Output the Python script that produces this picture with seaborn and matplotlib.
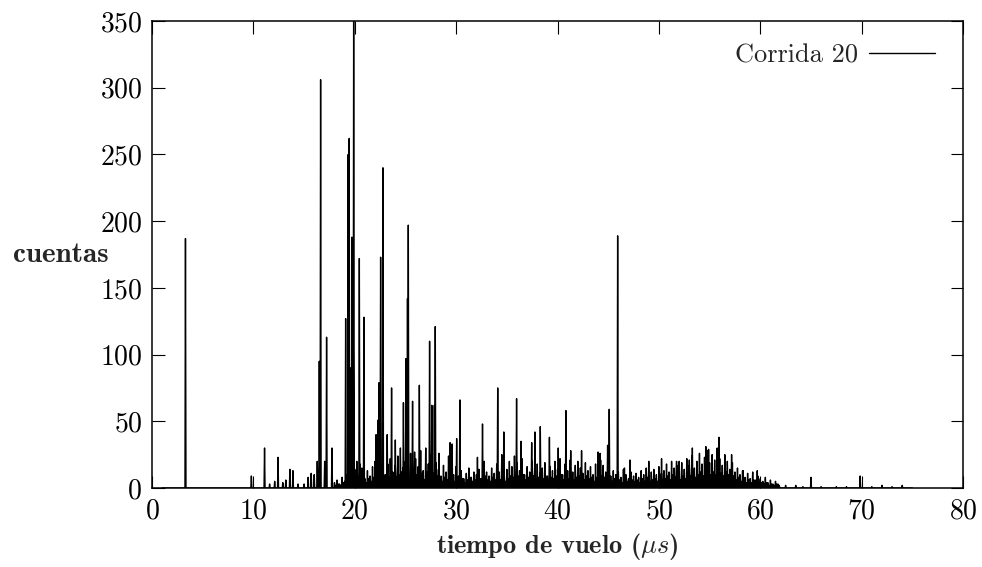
import numpy as np
import pandas as pd
import matplotlib
matplotlib.use('Agg')
import matplotlib.pyplot as plt
import seaborn as sns

# main peaks: time of flight (us) and counts
peak_t = [3.30, 9.80, 11.10, 11.60, 12.10, 12.43, 12.90, 13.20, 13.60, 13.90,
          14.40, 15.00, 15.40, 15.70, 16.00, 16.30, 16.50, 16.63, 17.03, 17.22,
          17.75, 19.10, 19.35, 19.45, 19.60, 19.72, 19.85, 19.89, 20.20, 20.45,
          20.70, 20.90, 22.10, 22.30, 22.40, 22.55, 22.78, 23.20, 23.63, 24.00,
          24.80, 25.05, 25.20, 25.28, 25.70, 25.90, 26.37, 27.38, 27.60, 27.85,
          27.94, 28.30, 29.40, 29.60, 30.05, 30.37, 32.10, 32.60, 34.10, 34.70,
          35.96, 36.40, 37.45, 37.77, 38.30, 39.20, 40.07, 40.83, 41.30, 42.37,
          44.00, 44.20, 44.94, 45.10, 45.93, 46.60, 47.14, 49.00, 50.26, 51.74,
          52.00, 53.00, 53.30, 54.63, 54.90, 55.92, 57.17, 58.30, 59.70, 65.00,
          69.85]
peak_c = [187, 9, 30, 3, 5, 23, 4, 6, 14, 13,
          3, 3, 8, 11, 10, 20, 95, 306, 20, 113,
          30, 127, 250, 262, 90, 188, 120, 350, 20, 172,
          15, 128, 40, 51, 79, 173, 240, 40, 75, 36,
          64, 97, 142, 197, 65, 27, 77, 110, 62, 62,
          121, 26, 34, 33, 37, 66, 23, 48, 75, 42,
          67, 35, 34, 42, 46, 38, 30, 58, 28, 28,
          27, 26, 32, 59, 189, 15, 21, 20, 22, 20,
          20, 21, 30, 31, 29, 38, 25, 13, 13, 8,
          9]

# dense background between 18 and 62 us, one value every 0.25 us
forest_t0 = 18.0
forest_dt = 0.25
forest_c = [4, 6, 3, 8, 5, 10, 7, 12,
            14, 9, 18, 11, 7, 13, 9, 16,
            20, 12, 25, 15, 10, 18, 22, 12,
            17, 24, 30, 15, 20, 12, 26, 14,
            22, 16, 28, 13, 30, 18, 25, 11,
            19, 14, 9, 17, 12, 24, 15, 10,
            16, 9, 13, 7, 11, 15, 8, 12,
            10, 14, 7, 20, 12, 9, 15, 11,
            18, 12, 25, 9, 14, 20, 16, 24,
            19, 13, 22, 10, 16, 12, 20, 14,
            18, 11, 15, 19, 9, 16, 13, 20,
            14, 22, 10, 18, 13, 21, 12, 17,
            20, 15, 11, 19, 13, 16, 10, 18,
            14, 21, 17, 12, 15, 9, 13, 10,
            12, 8, 14, 10, 7, 12, 9, 11,
            8, 13, 10, 15, 9, 12, 14, 10,
            16, 11, 13, 18, 12, 20, 15, 17,
            12, 19, 14, 22, 17, 24, 15, 20,
            26, 18, 23, 28, 19, 25, 21, 30,
            22, 17, 25, 20, 14, 19, 12, 15,
            10, 13, 8, 11, 7, 12, 6, 9,
            7, 5, 8, 4, 6, 3, 5, 3]

# low filler between the background spikes (offset by half a step)
filler_t0 = 18.125
filler_c = [2, 3, 2, 4, 3, 5, 4, 6,
            7, 5, 8, 6, 4, 7, 5, 8,
            9, 6, 10, 7, 5, 8, 9, 6,
            8, 10, 12, 7, 9, 6, 11, 7,
            10, 8, 11, 6, 12, 8, 10, 6,
            9, 7, 5, 8, 6, 10, 7, 5,
            8, 5, 7, 4, 6, 8, 5, 6,
            5, 7, 4, 9, 6, 5, 8, 6,
            9, 6, 10, 5, 7, 9, 8, 10,
            9, 7, 10, 6, 8, 6, 9, 7,
            8, 6, 7, 9, 5, 8, 7, 9,
            7, 10, 6, 8, 7, 9, 6, 8,
            9, 7, 6, 9, 7, 8, 5, 8,
            7, 9, 8, 6, 7, 5, 7, 5,
            6, 4, 7, 5, 4, 6, 5, 6,
            4, 7, 5, 8, 5, 6, 7, 5,
            8, 6, 7, 9, 6, 10, 8, 9,
            6, 9, 7, 11, 9, 12, 8, 10,
            12, 9, 11, 13, 10, 12, 10, 14,
            11, 9, 12, 10, 7, 9, 6, 8,
            5, 7, 4, 6, 4, 6, 3, 5,
            4, 3, 4, 2, 3, 2, 3, 2]

# sparse tail after 62 us
tail_t = [62.5, 63.5, 64.2, 66.0, 67.5, 68.5, 71.0, 72.0, 73.0, 74.0]
tail_c = [2, 2, 1, 1, 1, 1, 1, 2, 1, 2]

t_start, t_end = 1.0, 75.0

# build the trace: every count drawn as a narrow spike on the zero baseline
forest_t = [forest_t0 + i * forest_dt for i in range(len(forest_c))]
filler_t = [filler_t0 + i * forest_dt for i in range(len(filler_c))]
spikes = sorted(zip(peak_t + forest_t + filler_t + tail_t,
                    peak_c + forest_c + filler_c + tail_c))
w = 0.05
xs, ys = [t_start], [0]
for t, c in spikes:
    xs += [t - w, t, t + w]
    ys += [0, c, 0]
xs.append(t_end)
ys.append(0)
df = pd.DataFrame({'t': xs, 'cuentas': ys})

sns.set_theme(style='ticks')
plt.rcParams['font.family'] = ['cmr10', 'DejaVu Serif']
plt.rcParams['mathtext.fontset'] = 'cm'
plt.rcParams['axes.formatter.use_mathtext'] = True

fig = plt.figure(figsize=(9.82, 5.67), dpi=100)
ax = fig.add_axes([0.1548, 0.1393, 0.8259, 0.8236])

sns.lineplot(data=df, x='t', y='cuentas', sort=False, estimator=None,
             color='black', lw=1.0, label='Corrida 20', ax=ax)

ax.set_xlim(0, 80)
ax.set_ylim(0, 350)
ax.set_xticks(range(0, 81, 10))
ax.set_yticks(range(0, 351, 50))
ax.tick_params(direction='in', length=9, width=0.8, labelsize=20,
               top=True, right=True, pad=7, colors='black')
for s in ax.spines.values():
    s.set_linewidth(1.1)
    s.set_color('black')

ax.set_xlabel(r'tiempo de vuelo ($\mu s$)', fontsize=19, family='cmb10', labelpad=5)
ax.set_ylabel('cuentas', fontsize=21, family='cmb10', rotation=0, ha='center', va='center')
ax.yaxis.set_label_coords(-0.113, 0.5)

ax.legend(loc='upper right', bbox_to_anchor=(0.979, 0.975), frameon=False,
          markerfirst=False, fontsize=19, handlelength=2.5, handletextpad=0.45,
          borderaxespad=0)

fig.savefig('out.png', dpi=100)
